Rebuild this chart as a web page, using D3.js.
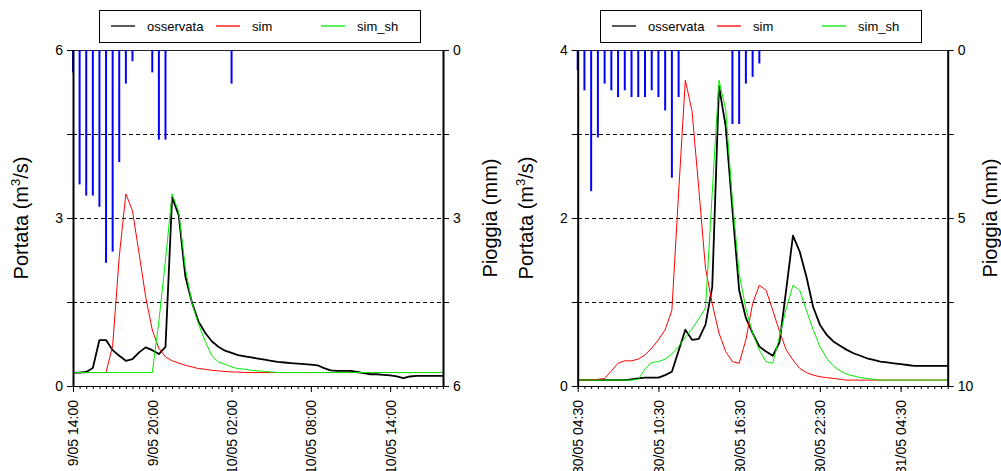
<!DOCTYPE html>
<html>
<head>
<meta charset="utf-8">
<script src="https://cdn.jsdelivr.net/npm/d3@7"></script>
<style>
  body { margin: 0; background: #fff; }
  svg { display: block; }
  text { font-family: "Liberation Sans", Arial, Helvetica, sans-serif; fill: #000; }
</style>
</head>
<body>
<svg id="chart" width="1001" height="471"></svg>
<script>
// ---- Event 1: 9-10 May, half-hourly series ----
const start1 = Date.UTC(2010, 4, 9, 14, 0);
const observed1 = [0.24, 0.24, 0.25, 0.32, 0.82, 0.82, 0.64, 0.54, 0.45, 0.48,
  0.60, 0.69, 0.64, 0.57, 0.70, 3.37, 3.05, 1.96, 1.49, 1.15,
  0.95, 0.80, 0.70, 0.63, 0.59, 0.55, 0.53, 0.51, 0.49, 0.47,
  0.45, 0.43, 0.42, 0.41, 0.40, 0.39, 0.38, 0.37, 0.32, 0.28,
  0.27, 0.27, 0.27, 0.25, 0.23, 0.21, 0.21, 0.20, 0.19, 0.17,
  0.14, 0.17, 0.18, 0.18, 0.18, 0.18, 0.18];
const sim1 = [0.24, 0.24, 0.24, 0.24, 0.24, 0.24, 0.72, 2.31, 3.43, 3.13,
  2.37, 1.59, 1.00, 0.67, 0.52, 0.45, 0.41, 0.37, 0.34, 0.31,
  0.30, 0.28, 0.27, 0.26, 0.25, 0.25, 0.24, 0.24, 0.24, 0.24,
  0.24, 0.24, 0.24, 0.24, 0.24, 0.24, 0.24, 0.24, 0.24, 0.24,
  0.24, 0.24, 0.24, 0.24, 0.24, 0.24, 0.24, 0.24, 0.24, 0.24,
  0.24, 0.24, 0.24, 0.24, 0.24, 0.24, 0.24];
const simSh1 = [0.24, 0.24, 0.24, 0.24, 0.24, 0.24, 0.24, 0.24, 0.24, 0.24,
  0.24, 0.24, 0.24, 1.16, 2.25, 3.43, 3.11, 2.10, 1.48, 1.10,
  0.80, 0.54, 0.43, 0.39, 0.34, 0.31, 0.30, 0.28, 0.27, 0.26,
  0.25, 0.24, 0.24, 0.24, 0.24, 0.24, 0.24, 0.24, 0.24, 0.24,
  0.24, 0.24, 0.24, 0.24, 0.24, 0.24, 0.24, 0.24, 0.24, 0.24,
  0.24, 0.24, 0.24, 0.24, 0.24, 0.24, 0.24];
const rain1 = [0.4, 2.4, 2.6, 2.6, 2.8, 3.8, 3.6, 2.0, 0.6, 0.2,
  0, 0, 0.4, 1.6, 1.6, 0, 0, 0, 0, 0,
  0, 0, 0, 0, 0.6, 0, 0, 0, 0, 0,
  0, 0, 0, 0, 0, 0, 0, 0, 0, 0,
  0, 0, 0, 0, 0, 0, 0, 0, 0, 0,
  0, 0, 0, 0, 0, 0, 0];
const timeLabels1 = ["9/05 14:00", "9/05 20:00", "10/05 02:00", "10/05 08:00", "10/05 14:00"];
const flowTicks1 = [0, 1.5, 3, 4.5, 6];
const flowLabels1 = [0, 3, 6];
const rainTicks1 = [0, 1.5, 3, 4.5, 6];
const rainLabels1 = [0, 3, 6];

// ---- Event 2: 30-31 May, half-hourly series ----
const start2 = Date.UTC(2010, 4, 30, 4, 30);
const observed2 = [0.07, 0.07, 0.07, 0.07, 0.07, 0.07, 0.07, 0.07, 0.08, 0.09,
  0.10, 0.10, 0.10, 0.13, 0.17, 0.42, 0.67, 0.55, 0.56, 0.73,
  1.18, 3.57, 3.09, 2.10, 1.14, 0.81, 0.63, 0.47, 0.41, 0.36,
  0.52, 1.15, 1.79, 1.60, 1.30, 0.94, 0.73, 0.61, 0.53, 0.48,
  0.43, 0.39, 0.36, 0.33, 0.31, 0.29, 0.28, 0.27, 0.26, 0.25,
  0.24, 0.24, 0.24, 0.24, 0.24, 0.24];
const sim2 = [0.07, 0.07, 0.07, 0.08, 0.09, 0.18, 0.27, 0.30, 0.30, 0.32,
  0.37, 0.45, 0.55, 0.67, 0.90, 2.30, 3.64, 3.27, 2.35, 1.40,
  0.98, 0.63, 0.41, 0.29, 0.27, 0.55, 0.98, 1.20, 1.14, 0.90,
  0.65, 0.43, 0.31, 0.21, 0.16, 0.13, 0.11, 0.10, 0.09, 0.08,
  0.07, 0.07, 0.07, 0.07, 0.07, 0.07, 0.07, 0.07, 0.07, 0.07,
  0.07, 0.07, 0.07, 0.07, 0.07, 0.07];
const simSh2 = [0.07, 0.07, 0.07, 0.07, 0.07, 0.07, 0.07, 0.07, 0.07, 0.08,
  0.20, 0.28, 0.29, 0.32, 0.38, 0.47, 0.58, 0.68, 0.80, 0.93,
  2.30, 3.64, 3.29, 2.21, 1.34, 0.92, 0.63, 0.43, 0.29, 0.27,
  0.59, 0.92, 1.20, 1.14, 0.90, 0.67, 0.47, 0.33, 0.24, 0.18,
  0.14, 0.12, 0.10, 0.09, 0.08, 0.07, 0.07, 0.07, 0.07, 0.07,
  0.07, 0.07, 0.07, 0.07, 0.07, 0.07];
const rain2 = [0.6, 1.2, 4.2, 2.6, 1.0, 1.2, 1.4, 1.2, 1.4, 1.4,
  1.4, 1.2, 1.4, 1.8, 3.8, 1.4, 0, 0, 0, 0,
  0, 0, 0, 2.2, 2.2, 1.0, 0.8, 0.4, 0, 0,
  0, 0, 0, 0, 0, 0, 0, 0, 0, 0,
  0, 0, 0, 0, 0, 0, 0, 0, 0, 0,
  0, 0, 0, 0, 0, 0];
const timeLabels2 = ["30/05 04:30", "30/05 10:30", "30/05 16:30", "30/05 22:30", "31/05 04:30"];
const flowTicks2 = [0, 1, 2, 3, 4];
const flowLabels2 = [0, 2, 4];
const rainTicks2 = [0, 2.5, 5, 7.5, 10];
const rainLabels2 = [0, 5, 10];

const seriesNames = ["osservata", "sim", "sim_sh"];
const seriesColors = ["#000000", "#ff0000", "#00ee00"];

const STEP = 30 * 60 * 1000;  // half hour
const svg = d3.select("#chart");

function drawPanel(opt) {
  const n = opt.observed.length;
  const times = d3.range(n).map(i => new Date(opt.start + i * STEP));
  const top = 50, bottom = 386;

  const x = d3.scaleUtc().domain([times[0], times[n - 1]]).range([opt.left, opt.right]);
  const yQ = d3.scaleLinear().domain([0, opt.flowTicks[opt.flowTicks.length - 1]]).range([bottom, top]);
  const yR = d3.scaleLinear().domain([0, opt.rainTicks[opt.rainTicks.length - 1]]).range([top, bottom]);

  const g = svg.append("g");

  // dashed reference lines
  g.selectAll("line.grid").data(opt.flowTicks.filter(d => d > 0 && d < yQ.domain()[1])).join("line")
    .attr("x1", opt.left).attr("x2", opt.right)
    .attr("y1", d => yQ(d)).attr("y2", d => yQ(d))
    .attr("stroke", "#000").attr("stroke-width", 1)
    .attr("stroke-dasharray", "4,3")
    .attr("shape-rendering", "crispEdges");

  // top edge
  g.append("line").attr("x1", opt.left).attr("x2", opt.right)
    .attr("y1", top).attr("y2", top)
    .attr("stroke", "#222").attr("stroke-width", 1)
    .attr("shape-rendering", "crispEdges");

  // rainfall bars hanging from the top
  g.selectAll("line.rain").data(opt.rain.map((v, i) => ({ t: times[i], v })).filter(d => d.v > 0))
    .join("line")
    .attr("x1", d => x(d.t)).attr("x2", d => x(d.t))
    .attr("y1", yR(0)).attr("y2", d => yR(d.v))
    .attr("stroke", "#0000ff").attr("stroke-width", 2);

  // discharge lines
  const line = d3.line().x((d, i) => x(times[i])).y(d => yQ(d));
  const series = [opt.observed, opt.sim, opt.simSh];
  const widths = [1.8, 1, 1];
  series.forEach((s, k) => {
    g.append("path").datum(s)
      .attr("d", line)
      .attr("fill", "none")
      .attr("stroke", seriesColors[k])
      .attr("stroke-width", widths[k])
      .attr("stroke-linejoin", "round");
  });

  // left axis: discharge
  const axL = d3.axisLeft(yQ).tickValues(opt.flowTicks).tickSize(6).tickSizeOuter(0)
    .tickFormat(d => opt.flowLabels.includes(d) ? d3.format("~g")(d) : "");
  const gL = g.append("g").attr("transform", `translate(${opt.left},0)`).call(axL);
  gL.select(".domain").attr("stroke-width", 2);
  gL.selectAll("text").attr("font-size", 14).attr("x", -10);

  // right axis: rainfall (reversed)
  const axR = d3.axisRight(yR).tickValues(opt.rainTicks).tickSize(6).tickSizeOuter(0)
    .tickFormat(d => opt.rainLabels.includes(d) ? d3.format("~g")(d) : "");
  const gR = g.append("g").attr("transform", `translate(${opt.right},0)`).call(axR);
  gR.select(".domain").attr("stroke-width", 2);
  gR.selectAll("text").attr("font-size", 14).attr("x", 10);

  // bottom axis: half-hour minor ticks
  const axMinor = d3.axisBottom(x).tickValues(times).tickSize(3).tickSizeOuter(0).tickFormat("");
  const gM = g.append("g").attr("transform", `translate(0,${bottom})`).call(axMinor);
  gM.select(".domain").attr("stroke-width", 1.2);

  // bottom axis: labelled ticks every six hours
  const majorTimes = opt.timeLabels.map((_, j) => times[j * 12]);
  const axMajor = d3.axisBottom(x).tickValues(majorTimes).tickSize(6).tickSizeOuter(0)
    .tickFormat((d, j) => opt.timeLabels[j]);
  const gX = g.append("g").attr("transform", `translate(0,${bottom})`).call(axMajor);
  gX.select(".domain").remove();
  gX.selectAll("text")
    .attr("font-size", 14)
    .attr("transform", "rotate(-90)")
    .attr("x", -14).attr("y", 0).attr("dy", "0.35em")
    .style("text-anchor", "end");

  // axis titles
  const qt = g.append("text")
    .attr("transform", `translate(${opt.left - 45},${(top + bottom) / 2}) rotate(-90)`)
    .attr("text-anchor", "middle").attr("font-size", 20);
  qt.append("tspan").text("Portata (m");
  qt.append("tspan").attr("font-size", 13).attr("dy", -8).text("3");
  qt.append("tspan").attr("dy", 8).text("/s)");

  g.append("text")
    .attr("transform", `translate(${opt.rainTitleX},${(top + bottom) / 2}) rotate(-90)`)
    .attr("text-anchor", "middle").attr("dy", "0.35em").attr("font-size", 20)
    .text("Pioggia (mm)");

  // legend
  const lg = g.append("g").attr("transform", `translate(${opt.legendX},10)`);
  lg.append("rect").attr("x", 0.5).attr("y", 0.5).attr("width", 321).attr("height", 32)
    .attr("fill", "#fff").attr("stroke", "#000").attr("stroke-width", 1);
  const offs = [12, 117, 222];
  seriesNames.forEach((name, k) => {
    lg.append("line").attr("x1", offs[k]).attr("x2", offs[k] + 24)
      .attr("y1", 16).attr("y2", 16)
      .attr("stroke", seriesColors[k]).attr("stroke-width", 1.3);
    lg.append("text").attr("x", offs[k] + 36).attr("y", 16).attr("dy", "0.35em")
      .attr("font-size", 13).text(name);
  });
}

drawPanel({
  start: start1, observed: observed1, sim: sim1, simSh: simSh1, rain: rain1,
  timeLabels: timeLabels1, flowTicks: flowTicks1, flowLabels: flowLabels1,
  rainTicks: rainTicks1, rainLabels: rainLabels1,
  left: 73, right: 443, legendX: 99, rainTitleX: 490
});
drawPanel({
  start: start2, observed: observed2, sim: sim2, simSh: simSh2, rain: rain2,
  timeLabels: timeLabels2, flowTicks: flowTicks2, flowLabels: flowLabels2,
  rainTicks: rainTicks2, rainLabels: rainLabels2,
  left: 577.7, right: 947.7, legendX: 600, rainTitleX: 990
});
</script>
</body>
</html>
